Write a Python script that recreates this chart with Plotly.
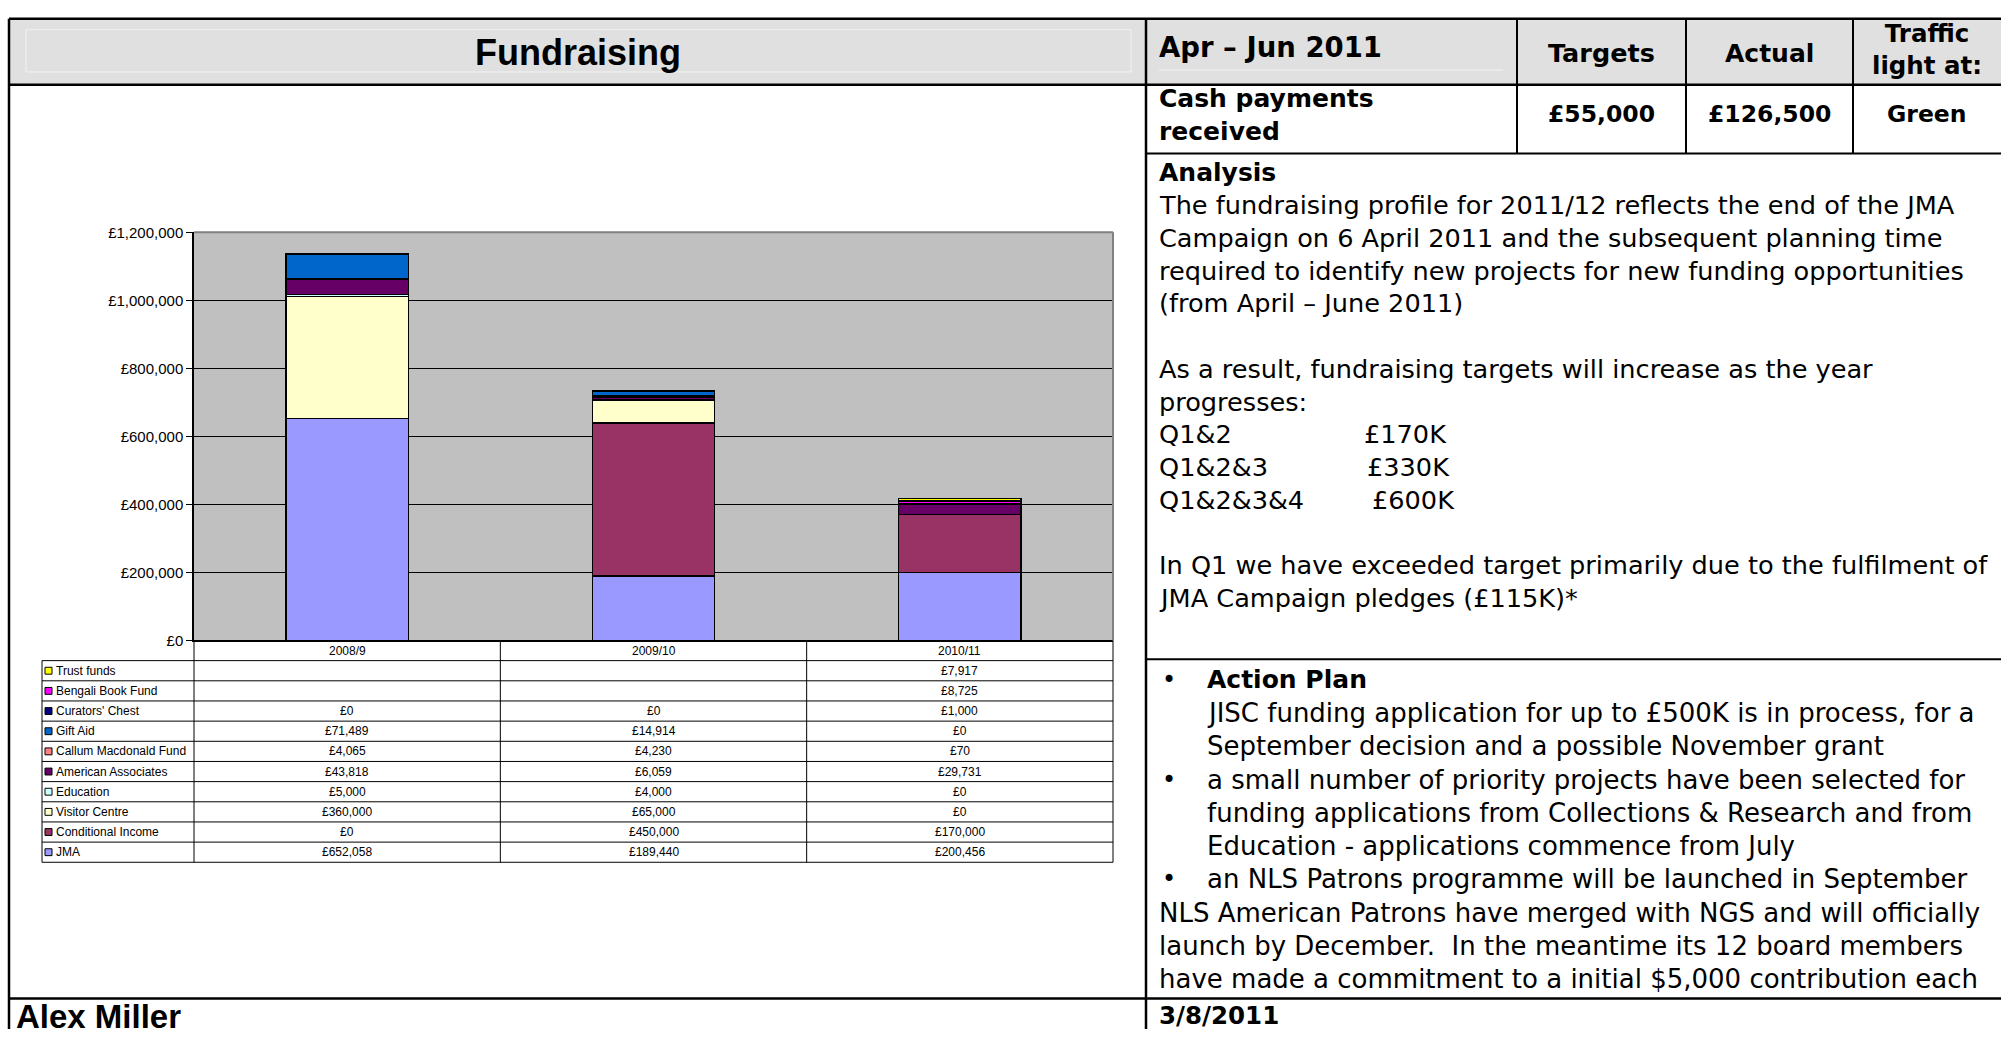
import plotly.graph_objects as go

# ---------------- data ----------------
categories = ["2008/9", "2009/10", "2010/11"]

# stacking order: bottom -> top
series_names = ["JMA", "Conditional Income", "Visitor Centre", "Education",
                "American Associates", "Callum Macdonald Fund", "Gift Aid",
                "Curators' Chest", "Bengali Book Fund", "Trust funds"]
jma = [652058, 189440, 200456]
conditional_income = [0, 450000, 170000]
visitor_centre = [360000, 65000, 0]
education = [5000, 4000, 0]
american_associates = [43818, 6059, 29731]
callum_macdonald_fund = [4065, 4230, 70]
gift_aid = [71489, 14914, 0]
curators_chest = [0, 0, 1000]
bengali_book_fund = [None, None, 8725]
trust_funds = [None, None, 7917]
series_values = [jma, conditional_income, visitor_centre, education,
                 american_associates, callum_macdonald_fund, gift_aid,
                 curators_chest, bengali_book_fund, trust_funds]
series_colors = ["#9999FF", "#993366", "#FFFFCC", "#CCFFFF", "#660066",
                 "#FF8080", "#0066CC", "#000080", "#FF00FF", "#FFFF00"]

y_ticks = [0, 200000, 400000, 600000, 800000, 1000000, 1200000]
y_tick_labels = ["£0", "£200,000", "£400,000", "£600,000", "£800,000",
                 "£1,000,000", "£1,200,000"]

title_left = "Fundraising"
period = "Apr – Jun 2011"
kpi_headers = ["Targets", "Actual", "Traffic<br>light at:"]
kpi_label = "Cash payments<br>received"
kpi_values = ["£55,000", "£126,500", "Green"]

analysis_title = "Analysis"
analysis_lines = [
    "The fundraising profile for 2011/12 reflects the end of the JMA",
    "Campaign on 6 April 2011 and the subsequent planning time",
    "required to identify new projects for new funding opportunities",
    "(from April – June 2011)",
    "",
    "As a result, fundraising targets will increase as the year",
    "progresses:",
]
quarter_labels = ["Q1&2", "Q1&2&3", "Q1&2&3&4"]
quarter_targets = ["£170K", "£330K", "£600K"]
analysis_tail = [
    "",
    "In Q1 we have exceeded target primarily due to the fulfilment of",
    "JMA Campaign pledges (£115K)*",
]

# (bullet, indented, bold, text)
action_lines = [
    (True, True, True, "Action Plan"),
    (False, True, False, "JISC funding application for up to £500K is in process, for a"),
    (False, True, False, "September decision and a possible November grant"),
    (True, True, False, "a small number of priority projects have been selected for"),
    (False, True, False, "funding applications from Collections & Research and from"),
    (False, True, False, "Education - applications commence from July"),
    (True, True, False, "an NLS Patrons programme will be launched in September"),
    (False, False, False, "NLS American Patrons have merged with NGS and will officially"),
    (False, False, False, "launch by December.  In the meantime its 12 board members"),
    (False, False, False, "have made a commitment to a initial $5,000 contribution each"),
]
footer_name = "Alex Miller"
footer_date = "3/8/2011"

# ---------------- layout helpers ----------------
W, H = 2001, 1037
def px(x):
    return x / W
def py(y):
    return 1 - y / H

CH = "Liberation Sans, Arial, sans-serif"
RP = "DejaVu Sans, Verdana, sans-serif"

PLOT_L, PLOT_R, PLOT_T, PLOT_B = 194, 1113, 227, 642

fig = go.Figure()
for name, vals, col in zip(series_names, series_values, series_colors):
    fig.add_trace(go.Bar(
        x=categories, y=vals, name=name,
        marker=dict(color=col, line=dict(color="black", width=1.3)),
        hoverinfo="name+y",
    ))

shapes = []
annotations = []

def line(x0, y0, x1, y1, w=2.5, color="black"):
    shapes.append(dict(type="line", xref="paper", yref="paper",
                       x0=px(x0), y0=py(y0), x1=px(x1), y1=py(y1),
                       line=dict(color=color, width=w), layer="above"))

def text(x, y, s, size, family, bold=False, xanchor="left", color="black"):
    annotations.append(dict(xref="paper", yref="paper", x=px(x), y=py(y),
                            text=("<b>%s</b>" % s) if bold else s,
                            showarrow=False, xanchor=xanchor, yanchor="middle",
                            align=xanchor if xanchor != "left" else "left",
                            font=dict(size=size, family=family, color=color)))

# header background
shapes.append(dict(type="rect", xref="paper", yref="paper",
                   x0=px(9), y0=py(77), x1=px(2001), y1=py(10),
                   fillcolor="#E0E0E0", line=dict(width=0), layer="below"))
# faint inner highlight lines of the header cells
shapes.append(dict(type="rect", xref="paper", yref="paper",
                   x0=px(26), y0=py(64), x1=px(1131), y1=py(21),
                   fillcolor="rgba(0,0,0,0)", line=dict(color="#F2F2F2", width=1),
                   layer="below"))
line(1159, 62, 1503, 62, w=1, color="#F2F2F2")

# frame lines
line(9, 10, 2001, 10)
line(9, 10, 9, 1037)
line(9, 77, 2001, 77)
line(1146, 10, 1146, 1037)
line(9, 1006, 2001, 1006)
line(1146, 147, 2001, 147, w=2)
line(1146, 661, 2001, 661, w=2)
for xv in (1517, 1686, 1853):
    line(xv, 10, xv, 147, w=2)

# plot area border (top/right gray)
line(PLOT_L, PLOT_T, PLOT_R, PLOT_T, w=2, color="#808080")
line(PLOT_R, PLOT_T, PLOT_R, PLOT_B, w=2, color="#808080")

# ---------------- data table under chart ----------------
ROW_H = 20.5
CAT_ROW_B = 662.5
TAB_L = 42
col_edges = [PLOT_L + (PLOT_R - PLOT_L) * k / 3 for k in range(4)]
n_rows = len(series_names)
tab_bottom = CAT_ROW_B + ROW_H * n_rows
for i in range(n_rows + 1):
    yy = CAT_ROW_B + ROW_H * i
    line(TAB_L, yy, PLOT_R, yy, w=1)
line(TAB_L, CAT_ROW_B, TAB_L, tab_bottom, w=1)
for xv in col_edges:
    line(xv, PLOT_B, xv, tab_bottom, w=1)

for c in categories:
    annotations.append(dict(xref="x", yref="paper", x=c, y=py((PLOT_B + CAT_ROW_B) / 2),
                            text=c, showarrow=False, xanchor="center", yanchor="middle",
                            font=dict(size=12, family=CH, color="black")))

for i, idx in enumerate(range(n_rows - 1, -1, -1)):
    yc = CAT_ROW_B + ROW_H * i + ROW_H / 2
    shapes.append(dict(type="rect", xref="paper", yref="paper",
                       x0=px(45), x1=px(52), y0=py(yc + 3.5), y1=py(yc - 3.5),
                       fillcolor=series_colors[idx], line=dict(color="black", width=1),
                       layer="above"))
    text(54, yc, series_names[idx], 12, CH)
    for c, v in zip(categories, series_values[idx]):
        if v is None:
            continue
        annotations.append(dict(xref="x", yref="paper", x=c, y=py(yc),
                                text="£{:,}".format(v), showarrow=False,
                                xanchor="center", yanchor="middle",
                                font=dict(size=12, family=CH, color="black")))

# ---------------- header texts ----------------
text((9 + 1146) / 2, 44, title_left, 36, CH, bold=True, xanchor="center")
text(1157, 39, period, 27.5, RP, bold=True)
text((1517 + 1686) / 2, 45, kpi_headers[0], 25.5, RP, bold=True, xanchor="center")
text((1686 + 1853) / 2, 45, kpi_headers[1], 25, RP, bold=True, xanchor="center")
text((1853 + 2001) / 2, 41, kpi_headers[2], 24.5, RP, bold=True, xanchor="center")

text(1157, 108, kpi_label, 25, RP, bold=True)
centers = [(1517 + 1686) / 2, (1686 + 1853) / 2, (1853 + 2001) / 2]
for cx, v in zip(centers, kpi_values):
    text(cx, 107, v, 23.5, RP, bold=True, xanchor="center")

# ---------------- analysis ----------------
STEP = 33.3
BODY = 25.6
text(1157, 166, analysis_title, 25, RP, bold=True)
k = 1
for s in analysis_lines:
    if s:
        text(1157, 166 + STEP * k, s, BODY, RP)
    k += 1
amount_x = [1362, 1365, 1370]
for q, t, ax in zip(quarter_labels, quarter_targets, amount_x):
    text(1157, 166 + STEP * k, q, BODY, RP)
    text(ax, 166 + STEP * k, t, BODY, RP)
    k += 1
for s in analysis_tail:
    if s:
        text(1157, 166 + STEP * k, s, BODY, RP)
    k += 1

# ---------------- action plan ----------------
ASTEP = 33.8
for j, (bullet, indent, bold, s) in enumerate(action_lines):
    yy = 682 + ASTEP * j
    if bullet:
        text(1160, yy, "•", 24, RP)
    text(1205 if indent else 1157, yy, s, 25 if bold else 26, RP, bold=bold)

# ---------------- footer ----------------
text(14, 1024, footer_name, 33, CH, bold=True)
text(1157, 1023, footer_date, 24.5, RP, bold=True)

fig.update_layout(
    width=W, height=H,
    margin=dict(l=0, r=0, t=0, b=0),
    paper_bgcolor="white",
    plot_bgcolor="#C0C0C0",
    barmode="stack",
    bargap=0.6,
    showlegend=False,
    shapes=shapes,
    annotations=annotations,
    xaxis=dict(domain=[px(PLOT_L), px(PLOT_R)], type="category",
               range=[-0.5, 2.5], showticklabels=False, ticks="",
               showline=True, linecolor="black", linewidth=1.5,
               showgrid=False, zeroline=False, fixedrange=True),
    yaxis=dict(domain=[py(PLOT_B), py(PLOT_T)], range=[0, 1200000],
               tickvals=y_ticks, ticktext=y_tick_labels,
               tickfont=dict(size=15, family=CH, color="black"),
               ticks="outside", ticklen=6, tickcolor="black",
               showline=True, linecolor="black", linewidth=1.5,
               showgrid=True, gridcolor="black", gridwidth=1,
               zeroline=False, fixedrange=True),
)

fig.write_html(
    "out.html",
    config={"displayModeBar": False},
    post_script="document.body.style.margin='0';document.body.style.overflow='hidden';",
)
